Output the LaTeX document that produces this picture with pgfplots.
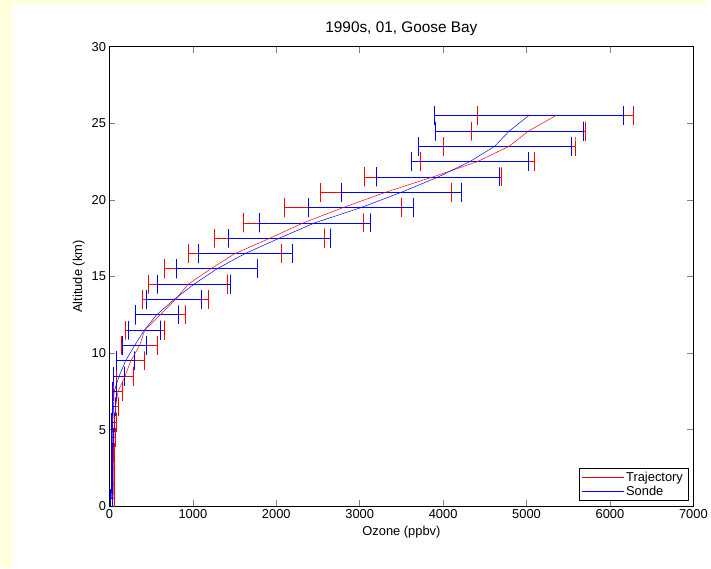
\documentclass[border=0pt]{standalone}
\usepackage{pgfplots}
\usepackage{pgfplotstable}
\pgfplotsset{compat=1.18}
\usepackage{fontspec}
\setmainfont{Liberation Sans}
\definecolor{bgyellow}{RGB}{255,255,221}
% altitude, Trajectory mean, Sonde mean (ppbv)
\pgfplotstableread{
alt tm sm
25.5 5350 5026
24.5 5025 4793
23.5 4790 4618
22.5 4410 4319
21.5 3876 3941
20.5 3311 3500
19.5 2800 3015
18.5 2323 2460
17.5 1922 2035
16.5 1505 1626
15.5 1213 1288
14.5 944 1013
13.5 791 775
12.5 608 565
11.5 423 418
10.5 362 302
9.5 256 193
8.5 188 117
7.5 103 56
6.5 73 50
5.5 60 40
4.5 55 35
3.5 52 32
2.5 50 30
1.5 48 28
0.5 45 25
}\data
\begin{document}
\begin{tikzpicture}[x=1bp,y=1bp]
\fill[bgyellow] (0,0) rectangle (711,571);
\fill[white] (12,0) rectangle (711,567);
\begin{axis}[
  at={(110bp,62bp)}, anchor=south west,
  scale only axis, width=587bp, height=462bp,
  xmin=0, xmax=7000, ymin=0, ymax=30,
  xtick={0,1000,...,7000}, ytick={0,5,...,30},
  scaled ticks=false,
  /pgf/number format/1000 sep={},
  /pgf/number format/assume math mode=true,
  tick align=inside, major tick length=6bp,
  axis line style={line width=0.6bp},
  tick style={line width=0.6bp},
  tick label style={font=\fontsize{13}{15}\selectfont},
  label style={font=\fontsize{13}{15}\selectfont},
  title style={font=\fontsize{15.5}{18}\selectfont, at={(0.5,1)}, anchor=south, yshift=2bp},
  title={1990s, 01, Goose Bay},
  xlabel={Ozone (ppbv)}, ylabel={Altitude (km)},
  legend style={at={(1,0)}, anchor=south east, xshift=-5.3bp, yshift=5.7bp,
    font=\fontsize{13}{15}\selectfont,
    inner xsep=3bp, inner ysep=2bp, row sep=-1bp},
  legend cell align=left,
  unbounded coords=jump,
]
% Trajectory error bars (mean +- std) with caps
\addplot[red, line width=0.8bp, mark=none, forget plot] coordinates {
(4415,26.12)(4415,24.88)(4415,25.5)(6285,25.5)(6285,26.12)(6285,24.88)(0,nan)
(4342,25.12)(4342,23.88)(4342,24.5)(5708,24.5)(5708,25.12)(5708,23.88)(0,nan)
(3999,24.12)(3999,22.88)(3999,23.5)(5581,23.5)(5581,24.12)(5581,22.88)(0,nan)
(3729,23.12)(3729,21.88)(3729,22.5)(5091,22.5)(5091,23.12)(5091,21.88)(0,nan)
(3057,22.12)(3057,20.88)(3057,21.5)(4695,21.5)(4695,22.12)(4695,20.88)(0,nan)
(2528,21.12)(2528,19.88)(2528,20.5)(4094,20.5)(4094,21.12)(4094,19.88)(0,nan)
(2099,20.12)(2099,18.88)(2099,19.5)(3501,19.5)(3501,20.12)(3501,18.88)(0,nan)
(1605,19.12)(1605,17.88)(1605,18.5)(3041,18.5)(3041,19.12)(3041,17.88)(0,nan)
(1264,18.12)(1264,16.88)(1264,17.5)(2580,17.5)(2580,18.12)(2580,16.88)(0,nan)
(947,17.12)(947,15.88)(947,16.5)(2063,16.5)(2063,17.12)(2063,15.88)(0,nan)
(656,16.12)(656,14.88)(656,15.5)(1770,15.5)(1770,16.12)(1770,14.88)(0,nan)
(469,15.12)(469,13.88)(469,14.5)(1419,14.5)(1419,15.12)(1419,13.88)(0,nan)
(394,14.12)(394,12.88)(394,13.5)(1188,13.5)(1188,14.12)(1188,12.88)(0,nan)
(306,13.12)(306,11.88)(306,12.5)(910,12.5)(910,13.12)(910,11.88)(0,nan)
(186,12.12)(186,10.88)(186,11.5)(660,11.5)(660,12.12)(660,10.88)(0,nan)
(147,11.12)(147,9.88)(147,10.5)(577,10.5)(577,11.12)(577,9.88)(0,nan)
(87,10.12)(87,8.88)(87,9.5)(425,9.5)(425,10.12)(425,8.88)(0,nan)
(87,9.12)(87,7.88)(87,8.5)(289,8.5)(289,9.12)(289,7.88)(0,nan)
(48,8.12)(48,6.88)(48,7.5)(158,7.5)(158,8.12)(158,6.88)(0,nan)
(40,7.12)(40,5.88)(40,6.5)(106,6.5)(106,7.12)(106,5.88)(0,nan)
(40,6.12)(40,4.88)(40,5.5)(80,5.5)(80,6.12)(80,4.88)(0,nan)
(43,5.12)(43,3.88)(43,4.5)(67,4.5)(67,5.12)(67,3.88)(0,nan)
(42,4.12)(42,2.88)(42,3.5)(62,3.5)(62,4.12)(62,2.88)(0,nan)
(40,3.12)(40,1.88)(40,2.5)(60,2.5)(60,3.12)(60,1.88)(0,nan)
(38,2.12)(38,0.88)(38,1.5)(58,1.5)(58,2.12)(58,0.88)(0,nan)
(30,1.12)(30,-0.12)(30,0.5)(60,0.5)(60,1.12)(60,-0.12)
};
% Sonde error bars (mean +- std) with caps
\addplot[blue, line width=0.8bp, mark=none, forget plot] coordinates {
(3891,26.12)(3891,24.88)(3891,25.5)(6161,25.5)(6161,26.12)(6161,24.88)(0,nan)
(3903,25.12)(3903,23.88)(3903,24.5)(5683,24.5)(5683,25.12)(5683,23.88)(0,nan)
(3700,24.12)(3700,22.88)(3700,23.5)(5536,23.5)(5536,24.12)(5536,22.88)(0,nan)
(3618,23.12)(3618,21.88)(3618,22.5)(5020,22.5)(5020,23.12)(5020,21.88)(0,nan)
(3204,22.12)(3204,20.88)(3204,21.5)(4678,21.5)(4678,22.12)(4678,20.88)(0,nan)
(2782,21.12)(2782,19.88)(2782,20.5)(4218,20.5)(4218,21.12)(4218,19.88)(0,nan)
(2385,20.12)(2385,18.88)(2385,19.5)(3645,19.5)(3645,20.12)(3645,18.88)(0,nan)
(1792,19.12)(1792,17.88)(1792,18.5)(3128,18.5)(3128,19.12)(3128,17.88)(0,nan)
(1427,18.12)(1427,16.88)(1427,17.5)(2643,17.5)(2643,18.12)(2643,16.88)(0,nan)
(1061,17.12)(1061,15.88)(1061,16.5)(2191,16.5)(2191,17.12)(2191,15.88)(0,nan)
(799,16.12)(799,14.88)(799,15.5)(1777,15.5)(1777,16.12)(1777,14.88)(0,nan)
(576,15.12)(576,13.88)(576,14.5)(1450,14.5)(1450,15.12)(1450,13.88)(0,nan)
(445,14.12)(445,12.88)(445,13.5)(1105,13.5)(1105,14.12)(1105,12.88)(0,nan)
(307,13.12)(307,11.88)(307,12.5)(823,12.5)(823,13.12)(823,11.88)(0,nan)
(231,12.12)(231,10.88)(231,11.5)(605,11.5)(605,12.12)(605,10.88)(0,nan)
(159,11.12)(159,9.88)(159,10.5)(445,10.5)(445,11.12)(445,9.88)(0,nan)
(88,10.12)(88,8.88)(88,9.5)(298,9.5)(298,10.12)(298,8.88)(0,nan)
(52,9.12)(52,7.88)(52,8.5)(182,8.5)(182,9.12)(182,7.88)(0,nan)
(32,8.12)(32,6.88)(32,7.5)(80,7.5)(80,8.12)(80,6.88)(0,nan)
(30,7.12)(30,5.88)(30,6.5)(70,6.5)(70,7.12)(70,5.88)(0,nan)
(25,6.12)(25,4.88)(25,5.5)(55,5.5)(55,6.12)(55,4.88)(0,nan)
(27,5.12)(27,3.88)(27,4.5)(43,4.5)(43,5.12)(43,3.88)(0,nan)
(24,4.12)(24,2.88)(24,3.5)(40,3.5)(40,4.12)(40,2.88)(0,nan)
(20,3.12)(20,1.88)(20,2.5)(40,2.5)(40,3.12)(40,1.88)(0,nan)
(18,2.12)(18,0.88)(18,1.5)(38,1.5)(38,2.12)(38,0.88)(0,nan)
(10,1.12)(10,-0.12)(10,0.5)(40,0.5)(40,1.12)(40,-0.12)
};
% mean profiles
\addplot[red, line width=0.5bp, mark=none,
  legend image code/.code={\draw[red, line width=0.6bp] (0bp,0bp) -- (42bp,0bp);}]
  table[x=tm, y=alt] {\data};
\addlegendentry{Trajectory}
\addplot[blue, line width=0.5bp, mark=none,
  legend image code/.code={\draw[blue, line width=0.6bp] (0bp,0bp) -- (42bp,0bp);}]
  table[x=sm, y=alt] {\data};
\addlegendentry{Sonde}
\end{axis}
\end{tikzpicture}
\end{document}
